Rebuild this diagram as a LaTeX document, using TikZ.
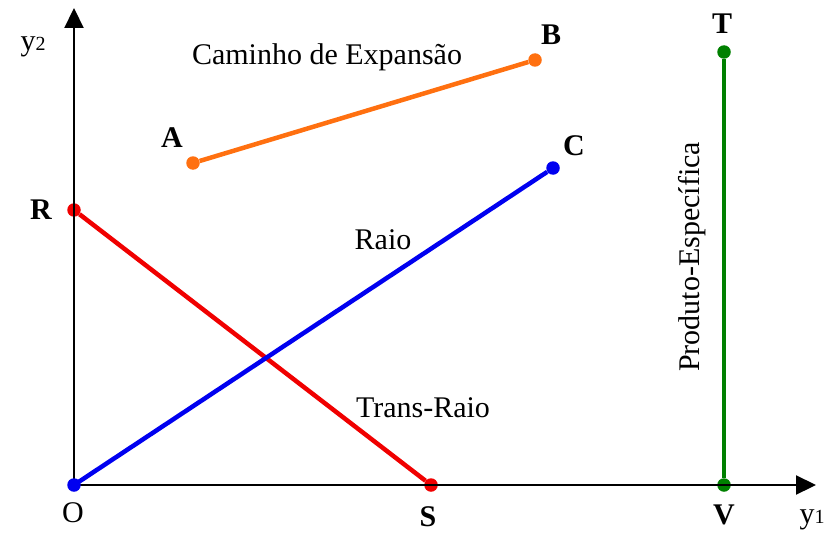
\documentclass[tikz,border=0pt]{standalone}
\usepackage{fontspec}
\setmainfont{Liberation Serif}
\usetikzlibrary{arrows.meta}
\definecolor{orng}{RGB}{255,112,16}
\definecolor{blu}{RGB}{0,0,240}
\definecolor{rd}{RGB}{240,0,0}
\definecolor{grn}{RGB}{0,128,0}
\begin{document}
\begin{tikzpicture}[x=1pt,y=-1pt,
  axis/.style={line width=2.2pt,-{Triangle[length=20pt,width=19pt]}},
  seg/.style={line width=4.5pt},
  dot/.style={circle,inner sep=0pt,minimum size=13.5pt},
  lbl/.style={font=\fontsize{30}{34}\selectfont,inner sep=0pt},
  blbl/.style={font=\fontsize{30}{34}\selectfont\bfseries,inner sep=0pt}]
\useasboundingbox (0,0) rectangle (827,535);
% points
\coordinate (O) at (74,485);
\coordinate (ytop) at (74,8);
\coordinate (xend) at (816,485);
\node[dot,fill=orng] (A) at (193,163) {};
\node[dot,fill=orng] (B) at (535,60) {};
\node[dot,fill=blu] (C) at (553,168) {};
\node[dot,fill=rd] (R) at (74,210) {};
\node[dot,fill=rd] (S) at (431,485) {};
\node[dot,fill=grn] (T) at (724,52) {};
\node[dot,fill=grn] (V) at (724,485) {};
% axes
\draw[axis] (O) -- (ytop);
\draw[axis] (O) -- (xend);
% segments
\draw[seg,orng] (A) -- (B);
\draw[seg,rd] (R) -- (S);
\draw[seg,blu] (O) -- (C);
\draw[seg,grn] (V) -- (T);
\node[dot,fill=blu] (Odot) at (O) {};
% labels
\node[lbl] (ly2) at (33,47) {y{\fontsize{20}{20}\selectfont 2}};
\node[lbl] (ly1) at (812,520) {y{\fontsize{20}{20}\selectfont 1}};
\node[lbl] (lO) at (73,513) {O};
\node[blbl] (lA) at (172,138) {A};
\node[blbl] (lB) at (551,35) {B};
\node[blbl] (lC) at (574,146) {C};
\node[blbl] (lR) at (41,210) {R};
\node[blbl] (lS) at (428,517) {S};
\node[blbl] (lT) at (722,24) {T};
\node[blbl] (lV) at (724,515) {V};
\node[lbl] (cam) at (327,57) {Caminho de Expansão};
\node[lbl] (raio) at (383,240) {Raio};
\node[lbl] (trans) at (423,408) {Trans-Raio};
\node[lbl,rotate=90] (prod) at (692,257) {Produto-Específica};
\end{tikzpicture}
\end{document}
